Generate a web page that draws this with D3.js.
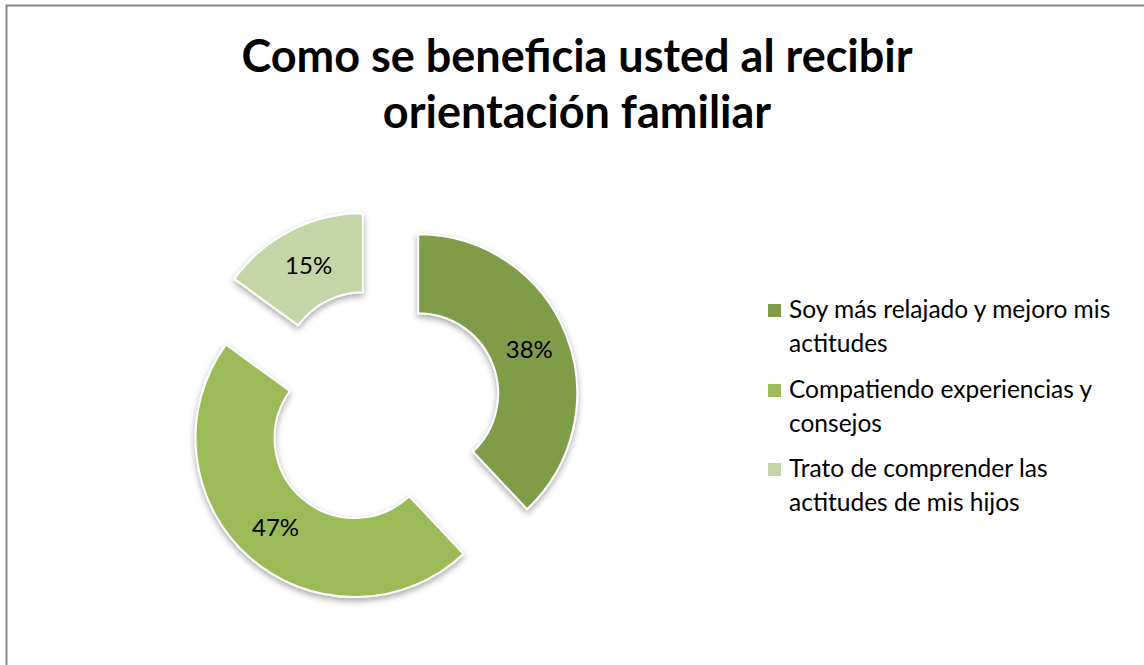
<!DOCTYPE html>
<html>
<head>
<meta charset="utf-8">
<script src="https://cdn.jsdelivr.net/npm/d3@7"></script>
<style>
  body { margin: 0; background: #fff; }
  svg { display: block; }
</style>
</head>
<body>
<script>
// data
var categories = ['Soy más relajado y mejoro mis actitudes',
                  'Compatiendo experiencias y consejos',
                  'Trato de comprender las actitudes de mis hijos'];
var values = [38, 47, 15];
var labels = ['38%', '47%', '15%'];
var legendLines = [['Soy más relajado y mejoro mis', 'actitudes'],
                   ['Compatiendo experiencias y', 'consejos'],
                   ['Trato de comprender las', 'actitudes de mis hijos']];
var colors = ['#7f9c4a', '#9bbb59', '#c4d6a8'];

var width = 1144, height = 665;
var font = 'Lato, "Open Sans", sans-serif';

var svg = d3.select('body').append('svg')
    .attr('width', width)
    .attr('height', height);

var defs = svg.append('defs');
var f = defs.append('filter').attr('id', 'shadow')
    .attr('x', '-20%').attr('y', '-20%').attr('width', '140%').attr('height', '140%');
f.append('feDropShadow')
    .attr('dx', 0).attr('dy', 3)
    .attr('stdDeviation', 3)
    .attr('flood-color', '#000')
    .attr('flood-opacity', 0.35);

// chart border
svg.append('rect')
    .attr('x', 6.5).attr('y', 5.5)
    .attr('width', 1160).attr('height', 700)
    .attr('fill', 'none')
    .attr('stroke', '#878787')
    .attr('stroke-width', 2);

// title
var title = svg.append('text')
    .attr('text-anchor', 'middle')
    .attr('font-family', font)
    .attr('font-weight', 'bold')
    .attr('font-size', 45)
    .attr('fill', '#000');
title.append('tspan').attr('x', 577).attr('y', 72).text('Como se beneficia usted al recibir');
title.append('tspan').attr('x', 577).attr('y', 128).text('orientación familiar');

// donut
var cx = 381, cy = 408, R = 159, r = 80, explode = 40;

var pie = d3.pie().sort(null).value(function(d){ return d; });
var arc = d3.arc().innerRadius(r).outerRadius(R);
var labelArc = d3.arc().innerRadius((R + r) / 2).outerRadius((R + r) / 2);

var g = svg.append('g').attr('transform', 'translate(' + cx + ',' + cy + ')');

var slices = g.selectAll('g.slice')
    .data(pie(values))
    .enter().append('g')
    .attr('class', 'slice')
    .attr('transform', function(d){
        var a = (d.startAngle + d.endAngle) / 2;
        return 'translate(' + (Math.sin(a) * explode) + ',' + (-Math.cos(a) * explode) + ')';
    });

slices.append('path')
    .attr('d', arc)
    .attr('fill', function(d, i){ return colors[i]; })
    .attr('stroke', '#fff')
    .attr('stroke-width', 2)
    .attr('filter', 'url(#shadow)');

slices.append('text')
    .attr('transform', function(d){ return 'translate(' + labelArc.centroid(d) + ')'; })
    .attr('text-anchor', 'middle')
    .attr('dy', '0.35em')
    .attr('font-family', font)
    .attr('font-size', 24)
    .attr('fill', '#000')
    .text(function(d, i){ return labels[i]; });

// legend
var legendY = [310, 390, 469];
var legend = svg.selectAll('g.legend')
    .data(categories)
    .enter().append('g')
    .attr('class', 'legend')
    .attr('transform', function(d, i){ return 'translate(768,' + legendY[i] + ')'; });

legend.append('rect')
    .attr('x', 0).attr('y', -6)
    .attr('width', 13).attr('height', 13)
    .attr('fill', function(d, i){ return colors[i]; });

legend.append('text')
    .attr('font-family', font)
    .attr('font-size', 24.5)
    .attr('fill', '#000')
    .selectAll('tspan')
    .data(function(d, i){ return legendLines[i]; })
    .enter().append('tspan')
    .attr('x', 21)
    .attr('y', function(d, j){ return 8 + j * 34; })
    .text(function(d){ return d; });
</script>
</body>
</html>
